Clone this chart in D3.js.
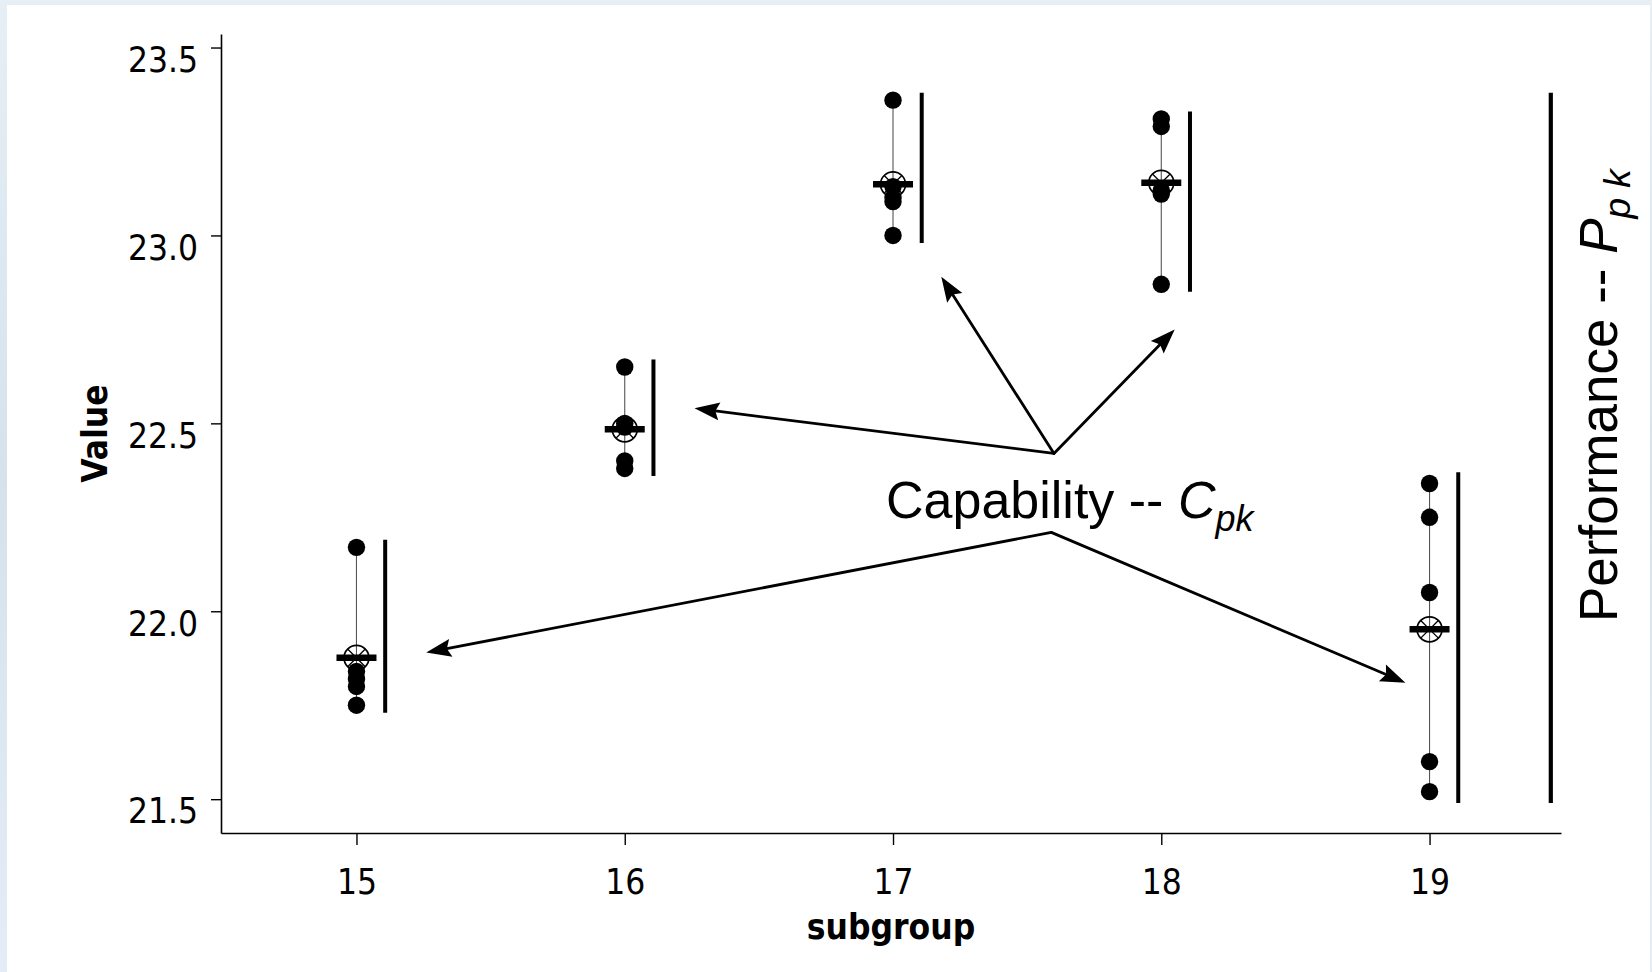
<!DOCTYPE html>
<html>
<head>
<meta charset="utf-8">
<script src="https://cdn.jsdelivr.net/npm/d3@7"></script>
<style>
  html, body { margin: 0; padding: 0; background: #e4edf5; }
  svg { display: block; }
</style>
</head>
<body>
<svg id="chart" width="1652" height="972"></svg>
<script>
// Subgroup observations (five readings each)
const subgroups = [15, 16, 17, 18, 19];
const sg15 = [22.17, 21.84, 21.82, 21.80, 21.75];
const sg16 = [22.65, 22.50, 22.49, 22.40, 22.38];
const sg17 = [23.36, 23.13, 23.10, 23.09, 23.00];
const sg18 = [23.31, 23.29, 23.12, 23.11, 22.87];
const sg19 = [22.34, 22.25, 22.05, 21.60, 21.52];
const samples = [sg15, sg16, sg17, sg18, sg19];

// Within-subgroup spread bars (capability) and overall spread bar (performance)
const capLow  = [21.73, 22.36, 22.98, 22.85, 21.49];
const capHigh = [22.19, 22.67, 23.38, 23.33, 22.37];
const perfLow = 21.49, perfHigh = 23.38, perfX = 19.452;
const capOffset = 0.107;

// Axis ticks
const xTicks = [15, 16, 17, 18, 19];
const yTicks = [21.5, 22.0, 22.5, 23.0, 23.5];

// Annotation arrows in data units
const cpkUpperFrom = [17.60, 22.42];
const cpkUpperTo = [[16.26, 22.54], [17.18, 22.89], [18.05, 22.75]];
const cpkLowerFrom = [17.59, 22.21];
const cpkLowerTo = [[15.26, 21.89], [18.91, 21.81]];

const W = 1652, H = 972;
const svg = d3.select("#chart");

// page background and white panel
const defs = svg.append("defs");
const grad = defs.append("linearGradient").attr("id", "bg").attr("x1", 0).attr("y1", 0).attr("x2", 0).attr("y2", 1);
grad.append("stop").attr("offset", "0%").attr("stop-color", "#e6eff6");
grad.append("stop").attr("offset", "50%").attr("stop-color", "#d6e1ea");
grad.append("stop").attr("offset", "100%").attr("stop-color", "#e4edf5");
svg.append("rect").attr("width", W).attr("height", H).attr("fill", "url(#bg)");
svg.append("rect").attr("x", 7).attr("y", 5).attr("width", 1643).attr("height", H - 5).attr("fill", "#ffffff");

const x = d3.scaleLinear().domain([14.495, 19.49]).range([221, 1561]);
const y = d3.scaleLinear().domain([21.41, 23.536]).range([833, 34]);

const tickFont = "'DejaVu Sans Condensed', 'DejaVu Sans', sans-serif";
const annFont = "'Liberation Sans', Arial, sans-serif";

// axes
const gx = svg.append("g").attr("transform", `translate(0,${y.range()[0]})`)
  .call(d3.axisBottom(x).tickValues(xTicks).tickSize(12).tickSizeOuter(0).tickPadding(24).tickFormat(d3.format("d")));
const gy = svg.append("g").attr("transform", `translate(${x.range()[0]},0)`)
  .call(d3.axisLeft(y).tickValues(yTicks).tickSize(10).tickSizeOuter(0).tickPadding(13).tickFormat(d3.format(".1f")));
[gx, gy].forEach(g => {
  g.select(".domain").attr("stroke", "#000").attr("stroke-width", 1.6);
  g.selectAll(".tick line").attr("stroke", "#000").attr("stroke-width", 1.4);
  g.selectAll(".tick text").attr("fill", "#000")
    .style("font-family", tickFont).style("font-stretch", "condensed").style("font-size", "35px");
});
gy.selectAll(".tick text").attr("dy", "0.68em");

// axis titles
svg.append("text").attr("x", 891).attr("y", 939).attr("text-anchor", "middle")
  .style("font-family", tickFont).style("font-stretch", "condensed").style("font-weight", "bold").style("font-size", "35px")
  .text("subgroup");
svg.append("text").attr("transform", "translate(107,433.5) rotate(-90)").attr("text-anchor", "middle")
  .style("font-family", tickFont).style("font-stretch", "condensed").style("font-weight", "bold").style("font-size", "35px")
  .text("Value");

const groups = subgroups.map((s, i) => ({ s, vals: samples[i], mean: d3.mean(samples[i]), lo: capLow[i], hi: capHigh[i] }));

// thin range line through each subgroup
svg.append("g").selectAll("line").data(groups).join("line")
  .attr("x1", d => x(d.s)).attr("x2", d => x(d.s))
  .attr("y1", d => y(d3.min(d.vals))).attr("y2", d => y(d3.max(d.vals)))
  .attr("stroke", "#555").attr("stroke-width", 1.1);

// mean marker: circle with a cross
const mk = svg.append("g").selectAll("g").data(groups).join("g")
  .attr("transform", d => `translate(${x(d.s)},${y(d.mean)})`);
mk.append("circle").attr("r", 12.5).attr("fill", "none").attr("stroke", "#000").attr("stroke-width", 1.7);
const rr = 12.5 * Math.SQRT1_2;
mk.append("path").attr("d", `M${-rr},${-rr}L${rr},${rr}M${-rr},${rr}L${rr},${-rr}`)
  .attr("stroke", "#000").attr("stroke-width", 1.3);

// observations
svg.append("g").selectAll("circle")
  .data(groups.flatMap(g => g.vals.map(v => ({ s: g.s, v }))))
  .join("circle")
  .attr("cx", d => x(d.s)).attr("cy", d => y(d.v)).attr("r", 8.7).attr("fill", "#000");

// mean bar
svg.append("g").selectAll("line").data(groups).join("line")
  .attr("x1", d => x(d.s) - 20).attr("x2", d => x(d.s) + 20)
  .attr("y1", d => y(d.mean)).attr("y2", d => y(d.mean))
  .attr("stroke", "#000").attr("stroke-width", 6.5);

// capability spread bars
svg.append("g").selectAll("line").data(groups).join("line")
  .attr("x1", d => x(d.s + capOffset)).attr("x2", d => x(d.s + capOffset))
  .attr("y1", d => y(d.lo)).attr("y2", d => y(d.hi))
  .attr("stroke", "#000").attr("stroke-width", 4);

// performance spread bar
svg.append("line")
  .attr("x1", x(perfX)).attr("x2", x(perfX)).attr("y1", y(perfLow)).attr("y2", y(perfHigh))
  .attr("stroke", "#000").attr("stroke-width", 4.2);

// arrows
const arrows = svg.append("g");
function arrow(from, to) {
  const x0 = x(from[0]), y0 = y(from[1]), x1 = x(to[0]), y1 = y(to[1]);
  const dx = x1 - x0, dy = y1 - y0, len = Math.hypot(dx, dy);
  const ux = dx / len, uy = dy / len, nx = -uy, ny = ux;
  const L = 25, w = 9;
  const bx = x1 - ux * L, by = y1 - uy * L;
  arrows.append("line").attr("x1", x0).attr("y1", y0).attr("x2", bx + ux * 4).attr("y2", by + uy * 4)
    .attr("stroke", "#000").attr("stroke-width", 2.8).attr("stroke-linecap", "round");
  arrows.append("path")
    .attr("d", `M${x1},${y1}L${bx + nx * w},${by + ny * w}L${bx + ux * 4},${by + uy * 4}L${bx - nx * w},${by - ny * w}Z`)
    .attr("fill", "#000");
}
cpkUpperTo.forEach(t => arrow(cpkUpperFrom, t));
cpkLowerTo.forEach(t => arrow(cpkLowerFrom, t));

// annotation labels
const cap = svg.append("text").attr("x", 886).attr("y", 518)
  .style("font-family", annFont).style("font-size", "52px").attr("fill", "#000");
cap.append("tspan").text("Capability -- ");
cap.append("tspan").style("font-style", "italic").text("C");
cap.append("tspan").style("font-style", "italic").style("font-size", "36px").attr("dy", 13).text("pk");

const perf = svg.append("text").attr("transform", "translate(1617,622) rotate(-90)")
  .style("font-family", annFont).style("font-size", "53px").attr("fill", "#000");
perf.append("tspan").text("Performance -- ");
perf.append("tspan").style("font-style", "italic").text("P");
perf.append("tspan").style("font-style", "italic").style("font-size", "37px").attr("dy", 13).text("p k");
</script>
</body>
</html>
